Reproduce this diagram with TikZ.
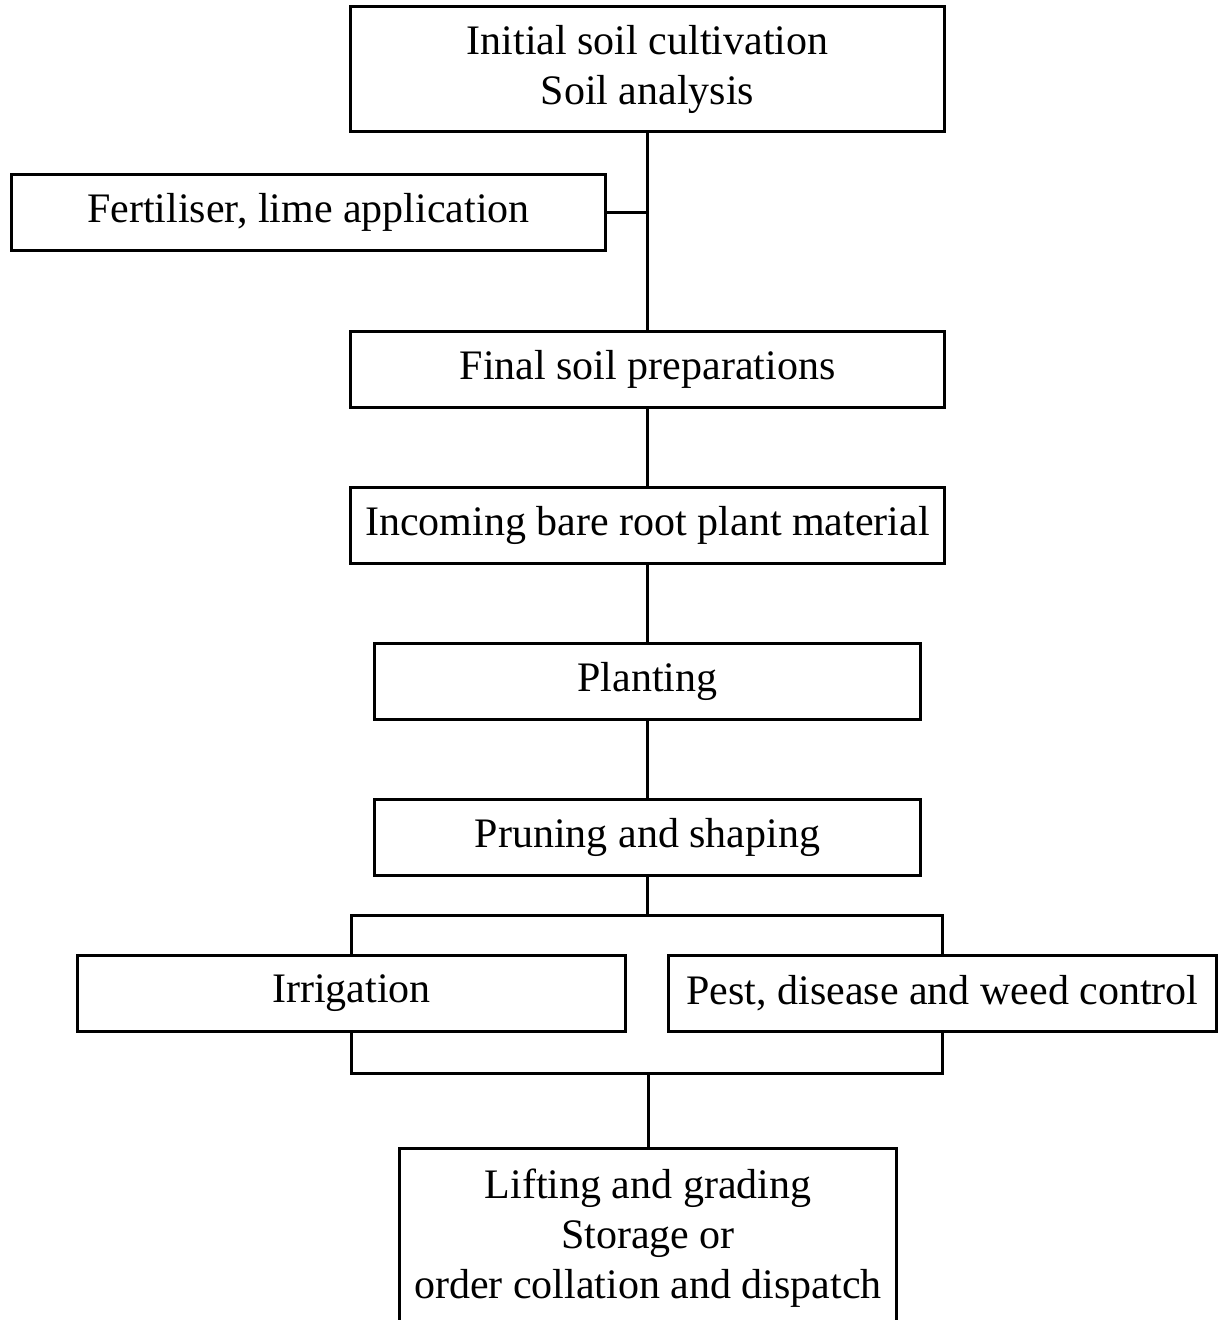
\documentclass[tikz,border=0pt]{standalone}
\usepackage{fontspec}
\setmainfont{Liberation Serif}
\usetikzlibrary{positioning}

\tikzset{
  stage/.style={draw, rectangle, line width=3pt, outer sep=0pt, inner sep=0pt, minimum width=594pt, minimum height=76pt, align=center, font=\fontsize{42}{50}\selectfont},
  link/.style={line width=3pt}
}

\begin{document}
\begin{tikzpicture}[x=1pt, y=-1pt, node distance=80pt]
    \useasboundingbox (0,0) rectangle (1221,1320);
    \node [stage, minimum height=125pt] (init) at (647.5,69) {Initial soil cultivation \\ Soil analysis};
    \node [stage] (fert) at (308.5,212.5) {Fertiliser, lime application};
    \node [stage, below=200pt of init] (prep) {Final soil preparations};
    \node [stage, below=of prep] (bare) {Incoming bare root plant material};
    \node [stage, minimum width=546pt, below=of bare] (plant) {Planting};
    \node [stage, minimum width=546pt, below=of plant] (prune) {Pruning and shaping};
    \node [stage, minimum width=548pt] (irrig) at (351.5,993.5) {Irrigation};
    \node [stage, minimum width=548pt] (pest) at (942.5,993.5) {Pest, disease and weed control};
    \node [stage, minimum width=497pt, minimum height=180pt, anchor=north] (lift) at (648,1148.5) {Lifting and grading \\ Storage or \\ order collation and dispatch};

    \coordinate [below=39.5pt of prune.south] (split);
    \coordinate [above=75pt of lift.north] (merge);

    \draw [link] (init) -- (prep);
    \draw [link] (fert.east) -- (fert.east -| init.south);
    \draw [link] (prep) -- (bare);
    \draw [link] (bare) -- (plant);
    \draw [link] (plant) -- (prune);
    \draw [link] (prune) -- (split);
    \draw [link] (irrig.north) |- (split) -| (pest.north);
    \draw [link] (irrig.south) |- (merge) -| (pest.south);
    \draw [link] (merge) -- (lift);
\end{tikzpicture}
\end{document}
